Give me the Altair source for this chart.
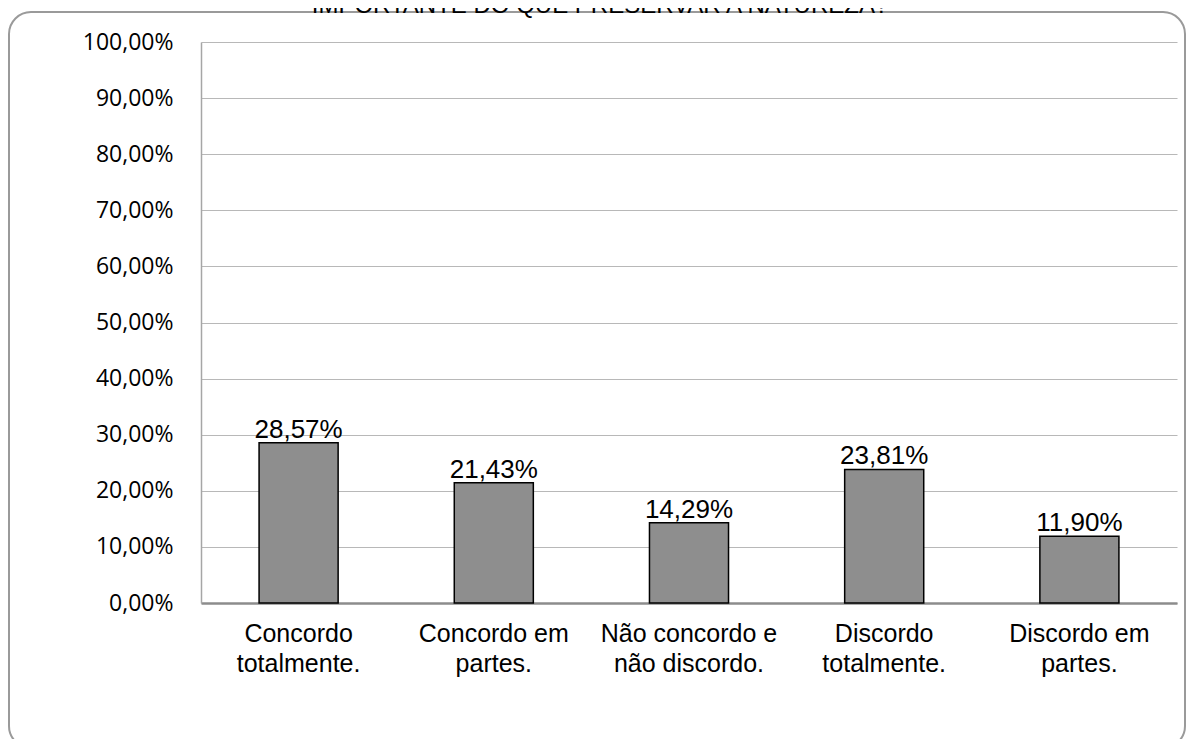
import altair as alt
import pandas as pd

categories = ["Concordo totalmente.", "Concordo em partes.", "Não concordo e não discordo.",
              "Discordo totalmente.", "Discordo em partes."]
label_lines = [["Concordo", "totalmente."], ["Concordo em", "partes."],
               ["Não concordo e", "não discordo."], ["Discordo", "totalmente."],
               ["Discordo em", "partes."]]
values = [28.57, 21.43, 14.29, 23.81, 11.90]
value_labels = ["28,57%", "21,43%", "14,29%", "23,81%", "11,90%"]
title_line = "IMPORTANTE DO QUE PRESERVAR A NATUREZA?"
y_ticks = [0, 10, 20, 30, 40, 50, 60, 70, 80, 90, 100]

df = pd.DataFrame({"cat": categories, "val": values, "lab": value_labels})

label_map = {c: l for c, l in zip(categories, label_lines)}
expr_parts = " : ".join(
    f"datum.value == '{c}' ? {l!r}" for c, l in label_map.items()
) + " : datum.value"

x = alt.X("cat:N", sort=categories,
          scale=alt.Scale(paddingInner=0.595, paddingOuter=0.2975),
          axis=alt.Axis(title=None, labelAngle=0, ticks=False, labelPadding=18,
                        labelFont="Liberation Sans", labelFontSize=25, labelColor="#000000",
                        labelLineHeight=30, labelExpr=expr_parts,
                        domainColor="#8c8c8c", domainWidth=2.5, grid=False))
y = alt.Y("val:Q", scale=alt.Scale(domain=[0, 100], nice=False),
          axis=alt.Axis(title=None, values=y_ticks, ticks=False, labelPadding=28,
                        labelFont="Open Sans", labelFontSize=23, labelColor="#000000",
                        labelExpr="replace(format(datum.value, '.2f'), '.', ',') + '%'",
                        domainColor="#a6a6a6", domainWidth=1.5,
                        gridColor="#b8b8b8", gridWidth=1.2))

bars = alt.Chart(df).mark_bar(fill="#8e8e8e", stroke="#000000", strokeWidth=1.5).encode(x=x, y=y)
texts = alt.Chart(df).mark_text(baseline="alphabetic", dy=-5, font="Liberation Sans",
                                fontSize=26, color="#000000").encode(
    x=alt.X("cat:N", sort=categories), y="val:Q", text="lab:N")

title_df = pd.DataFrame({"t": [title_line]})
title = alt.Chart(title_df).mark_text(font="Liberation Sans", fontSize=24, color="#000000",
                                      baseline="alphabetic", align="center").encode(
    x=alt.value(399), y=alt.value(-29), text="t:N")

border = alt.Chart(title_df).mark_rect(fill=None, fillOpacity=0, stroke="#9a9a9a",
                                       strokeWidth=2, cornerRadius=22).encode(
    x=alt.value(-192), x2=alt.value(984), y=alt.value(-30), y2=alt.value(706))

chart = alt.layer(border, bars, texts, title).properties(
    width=976, height=561,
    autosize=alt.AutoSizeParams(type="none"),
    padding={"left": 193, "top": 34, "right": 10, "bottom": 136},
    background="#ffffff",
).configure_view(stroke=None)

chart.save("out.html", embed_options={"renderer": "svg", "actions": False})
